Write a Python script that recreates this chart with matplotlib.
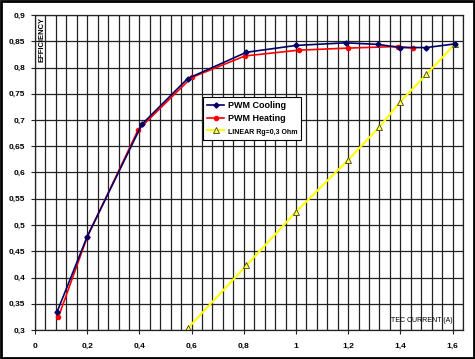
import matplotlib
matplotlib.use("Agg")
import matplotlib.pyplot as plt
from matplotlib.patches import Rectangle
from matplotlib.ticker import MultipleLocator, FuncFormatter

# Datos
cool_x = [0.085, 0.2, 0.41, 0.585, 0.81, 1.0, 1.19, 1.315, 1.4, 1.5, 1.61]
cool_y = [0.335, 0.478, 0.692, 0.779, 0.829, 0.842, 0.847, 0.844, 0.838, 0.838, 0.845]

heat_x = [0.09, 0.2, 0.395, 0.6, 0.805, 1.01, 1.2, 1.39, 1.45]
heat_y = [0.325, 0.477, 0.681, 0.781, 0.822, 0.833, 0.837, 0.840, 0.837]

lin_x = [0.585, 0.81, 1.0, 1.2, 1.32, 1.4, 1.5, 1.61]
lin_y = [0.303, 0.423, 0.525, 0.624, 0.687, 0.735, 0.787, 0.845]

plt.rcParams['font.family'] = ['Liberation Sans', 'DejaVu Sans']

fig = plt.figure(figsize=(4.75, 3.59), dpi=100)
ax = fig.add_axes([35 / 475, 1 - 330 / 359, 428 / 475, 315 / 359])

ax.plot(cool_x, cool_y, color='#000066', lw=1.2, marker='D', ms=2.6,
        label='PWM Cooling', zorder=4)
ax.plot(heat_x, heat_y, color='#ff0000', lw=1.2, marker='o', ms=3,
        label='PWM Heating', zorder=3)
ax.plot(lin_x, lin_y, color='#ffff00', lw=1.5, marker='^', ms=4,
        mfc='#ffff66', mec='#444400', mew=0.6,
        label='LINEAR Rg=0,3 Ohm', zorder=2)

ax.set_xlim(0, 1.64)
ax.set_ylim(0.3, 0.9)
ax.xaxis.set_major_locator(MultipleLocator(0.2))
ax.xaxis.set_minor_locator(MultipleLocator(0.04))
ax.yaxis.set_major_locator(MultipleLocator(0.05))

fmt = FuncFormatter(lambda v, p: ('%g' % round(v, 2)).replace('.', ','))
ax.xaxis.set_major_formatter(fmt)
ax.yaxis.set_major_formatter(fmt)

ax.grid(True, which='major', axis='y', color='#222222', lw=0.9)
ax.grid(True, which='minor', axis='x', color='#222222', lw=0.9)
ax.grid(True, which='major', axis='x', color='#222222', lw=0.9)
ax.set_axisbelow(True)

ax.tick_params(axis='both', which='major', labelsize=6, length=3,
               width=0.8, colors='#222222', pad=3)
ax.tick_params(axis='both', which='minor', length=0)
for lbl in ax.get_xticklabels() + ax.get_yticklabels():
    lbl.set_fontweight('bold')
    lbl.set_color('black')
ax.tick_params(axis='y', pad=4)
ax.tick_params(axis='x', pad=6)

for s in ax.spines.values():
    s.set_color('#222222')
    s.set_linewidth(0.9)

ax.text(0.013, 0.897, 'EFFICIENCY', rotation=90, ha='left', va='top',
        fontsize=5.5, fontweight='bold')
ax.text(1.6, 0.312, 'TEC CURRENT (A)', ha='right', va='bottom', fontsize=5)

leg = ax.legend(loc='upper left', bbox_to_anchor=((203 - 35) / 428, (330 - 97) / 315),
                frameon=True, fancybox=False, edgecolor='black', framealpha=1,
                borderpad=0.45, labelspacing=0.45, handlelength=1.9,
                handletextpad=0.4, borderaxespad=0,
                prop={'size': 6.5, 'weight': 'bold'})
leg.get_frame().set_linewidth(0.8)
leg.get_texts()[2].set_fontsize(5)

# marco exterior
fig.patches.append(Rectangle((0.002, 0.003), 0.996, 0.994, transform=fig.transFigure,
                             fill=False, edgecolor='black', lw=2))

fig.savefig('out.png', dpi=100)
